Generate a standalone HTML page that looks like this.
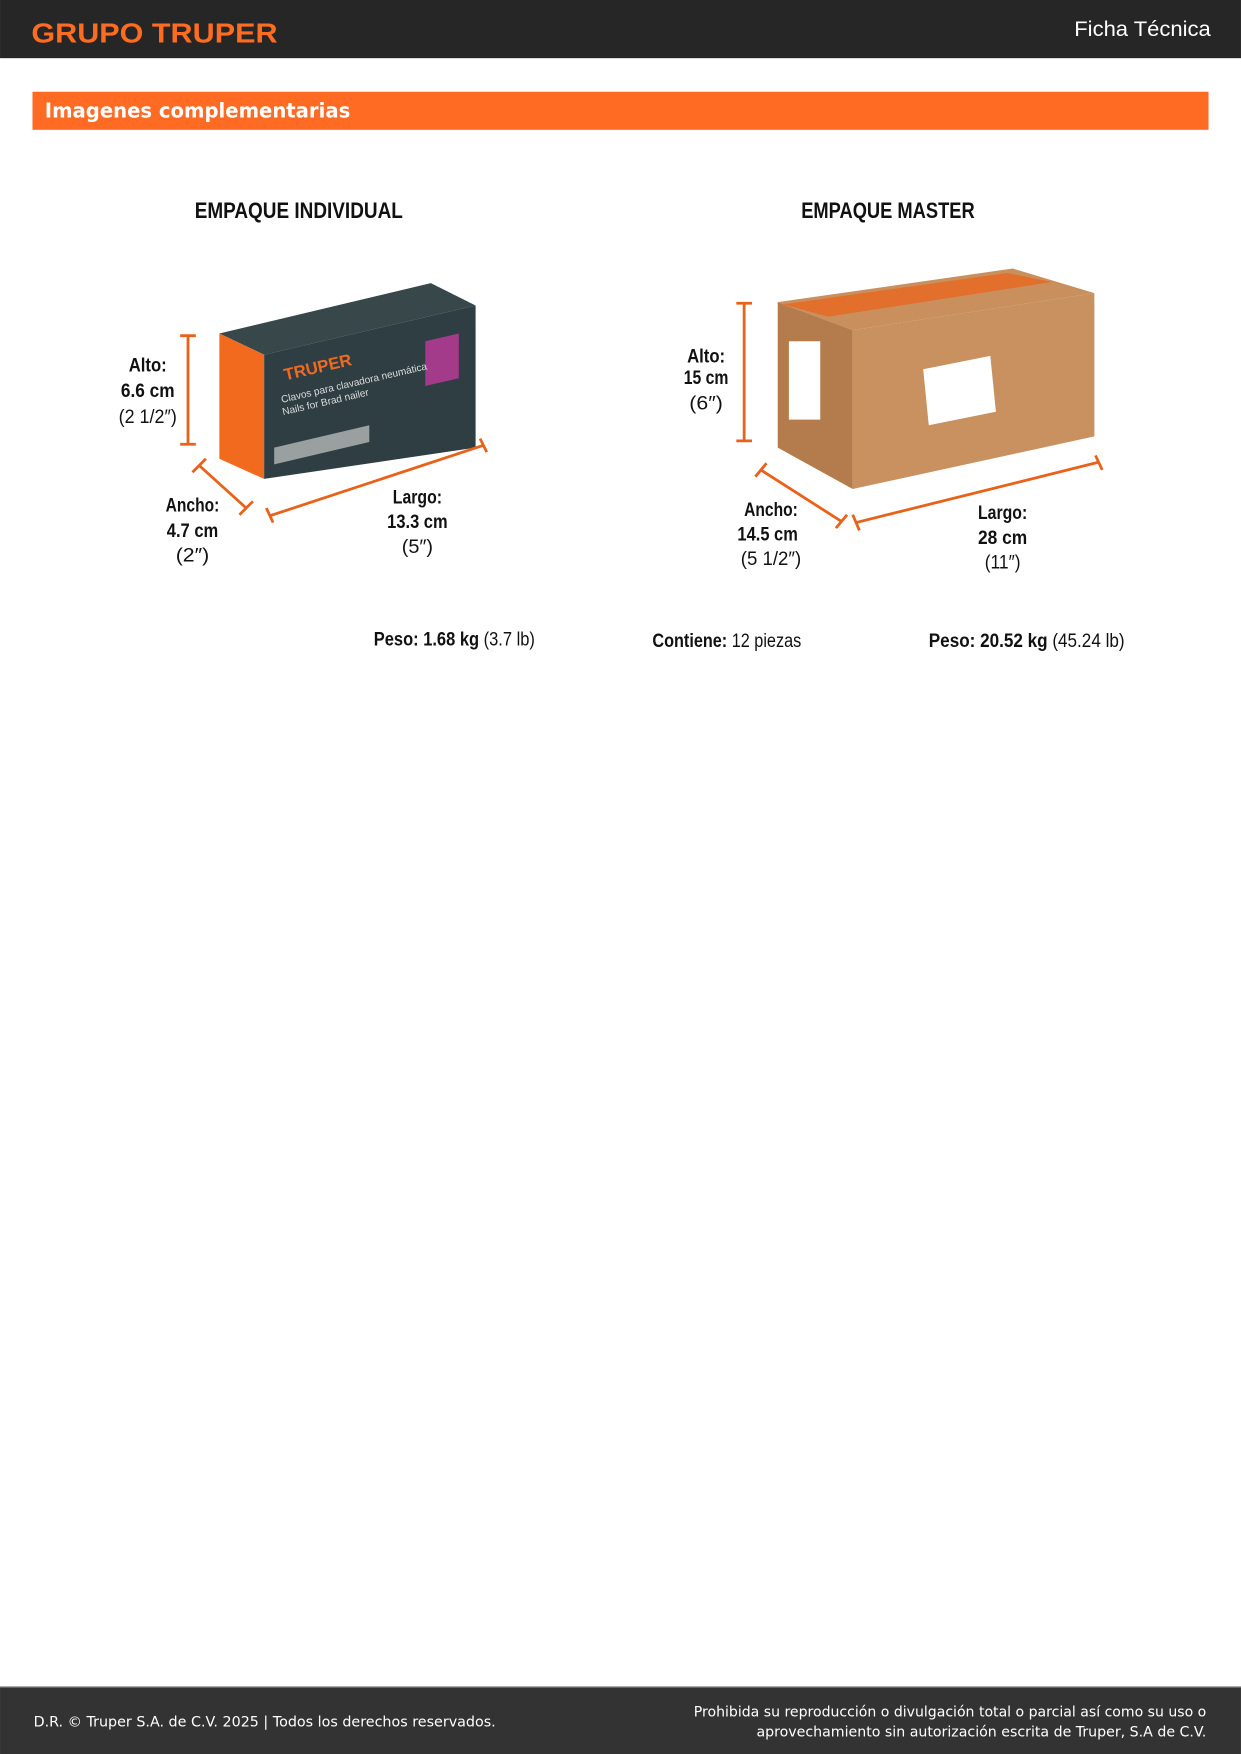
<!DOCTYPE html>
<html><head><meta charset="utf-8"><style>
html,body{margin:0;padding:0;background:#fff;}
svg{display:block;}
.c{font-family:"Liberation Sans Narrow","Liberation Sans",sans-serif;}
</style></head><body>
<svg width="1241" height="1754" viewBox="0 0 1109 1567.5" xmlns="http://www.w3.org/2000/svg">
<rect x="0" y="0" width="1109" height="52" fill="#262626"/>
<text x="28" y="38" class="c" font-size="25" font-weight="bold" fill="#ff6b1f" textLength="220" lengthAdjust="spacingAndGlyphs">GRUPO TRUPER</text>
<text x="1082" y="32" text-anchor="end" font-family="Liberation Sans,sans-serif" font-size="19" fill="#fff" textLength="122" lengthAdjust="spacingAndGlyphs">Ficha Técnica</text>
<rect x="29" y="82" width="1051" height="34" fill="#ff6b22"/>
<text x="40" y="105" font-family="DejaVu Sans,sans-serif" font-weight="bold" font-size="18" fill="#fff" textLength="273" lengthAdjust="spacingAndGlyphs">Imagenes complementarias</text>
<g class="c" font-weight="bold" font-size="20" fill="#111">
<text x="174" y="195" textLength="186" lengthAdjust="spacingAndGlyphs">EMPAQUE INDIVIDUAL</text>
<text x="716" y="195" textLength="155" lengthAdjust="spacingAndGlyphs">EMPAQUE MASTER</text>
</g>
<!-- individual box -->
<polygon points="196,298 385,253 425,273 236,317" fill="#37474a"/>
<polygon points="236,317 425,273 425,400 236,428" fill="#2f3e42"/>
<polygon points="196,298 236,317 236,428 196,410" fill="#f26a1e"/>
<polygon points="245,400 330,380 330,395 245,415" fill="#9aa0a0"/>
<polygon points="380,305 410,298 410,338 380,345" fill="#a43a8a"/>
<text x="255" y="340" font-family="Liberation Sans,sans-serif" font-weight="bold" font-size="15" fill="#f26a1e" transform="rotate(-13 255 340)">TRUPER</text>
<text x="252" y="360" font-family="Liberation Sans,sans-serif" font-size="9" fill="#ddd" transform="rotate(-13 252 360)">Clavos para clavadora neumática</text>
<text x="253" y="371" font-family="Liberation Sans,sans-serif" font-size="9" fill="#ddd" transform="rotate(-13 253 371)">Nails for Brad nailer</text>
<!-- master box -->
<polygon points="695,270 905,240 978,262 762,295" fill="#c98f5c"/>
<polygon points="762,295 978,262 978,390 762,437" fill="#c8915f"/>
<polygon points="695,270 762,295 762,437 695,400" fill="#b47c4c"/>
<polygon points="700,272 900,244 940,252 740,283" fill="#e8671f" opacity="0.8"/>
<polygon points="825,330 885,318 890,368 830,380" fill="#fff"/>
<rect x="705" y="305" width="28" height="70" fill="#fff"/>
<g stroke="#e8621a" stroke-width="2.5" fill="none">
<path d="M168,300V397M161,300H175M161,397H175"/>
<path d="M178,416L220,454M172,422L184,410M214,460L226,448"/>
<path d="M241,461L432,398M238,454L244,467M429,392L435,404"/>
<path d="M665,271V394M658,271H672M658,394H672"/>
<path d="M680,420L752,466M675,426L685,414M747,472L757,460"/>
<path d="M765,467L982,413M762,460L768,474M979,407L985,420"/>
</g>
<g class="c" font-size="17" fill="#111" text-anchor="middle">
<text x="132" y="332" font-weight="bold" textLength="34" lengthAdjust="spacingAndGlyphs">Alto:</text>
<text x="132" y="355" font-weight="bold" textLength="48" lengthAdjust="spacingAndGlyphs">6.6 cm</text>
<text x="132" y="378" textLength="52" lengthAdjust="spacingAndGlyphs">(2 1/2″)</text>
<text x="172" y="457" font-weight="bold" textLength="48" lengthAdjust="spacingAndGlyphs">Ancho:</text>
<text x="172" y="480" font-weight="bold" textLength="46" lengthAdjust="spacingAndGlyphs">4.7 cm</text>
<text x="172" y="502" textLength="30" lengthAdjust="spacingAndGlyphs">(2″)</text>
<text x="373" y="450" font-weight="bold" textLength="44" lengthAdjust="spacingAndGlyphs">Largo:</text>
<text x="373" y="472" font-weight="bold" textLength="54" lengthAdjust="spacingAndGlyphs">13.3 cm</text>
<text x="373" y="494" textLength="28" lengthAdjust="spacingAndGlyphs">(5″)</text>
<text x="631" y="324" font-weight="bold" textLength="34" lengthAdjust="spacingAndGlyphs">Alto:</text>
<text x="631" y="343" font-weight="bold" textLength="40" lengthAdjust="spacingAndGlyphs">15 cm</text>
<text x="631" y="366" textLength="30" lengthAdjust="spacingAndGlyphs">(6″)</text>
<text x="689" y="461" font-weight="bold" textLength="48" lengthAdjust="spacingAndGlyphs">Ancho:</text>
<text x="686" y="483" font-weight="bold" textLength="54" lengthAdjust="spacingAndGlyphs">14.5 cm</text>
<text x="689" y="505" textLength="54" lengthAdjust="spacingAndGlyphs">(5 1/2″)</text>
<text x="896" y="464" font-weight="bold" textLength="44" lengthAdjust="spacingAndGlyphs">Largo:</text>
<text x="896" y="486" font-weight="bold" textLength="44" lengthAdjust="spacingAndGlyphs">28 cm</text>
<text x="896" y="508" textLength="32" lengthAdjust="spacingAndGlyphs">(11″)</text>
</g>
<g class="c" font-size="17" fill="#111">
<text x="334" y="577" textLength="144" lengthAdjust="spacingAndGlyphs"><tspan font-weight="bold">Peso: 1.68 kg</tspan> (3.7 lb)</text>
<text x="583" y="578" textLength="133" lengthAdjust="spacingAndGlyphs"><tspan font-weight="bold">Contiene:</tspan> 12 piezas</text>
<text x="830" y="578" textLength="175" lengthAdjust="spacingAndGlyphs"><tspan font-weight="bold">Peso: 20.52 kg</tspan> (45.24 lb)</text>
</g>
<rect x="0" y="1507" width="1109" height="61" fill="#333"/>
<rect x="0" y="1507" width="1109" height="1" fill="#aaa"/>
<g font-family="DejaVu Sans,sans-serif" font-size="13" fill="#fff">
<text x="30" y="1543" textLength="413" lengthAdjust="spacingAndGlyphs">D.R. © Truper S.A. de C.V. 2025 | Todos los derechos reservados.</text>
<text x="1078" y="1534" text-anchor="end" textLength="458" lengthAdjust="spacingAndGlyphs">Prohibida su reproducción o divulgación total o parcial así como su uso o</text>
<text x="1078" y="1552" text-anchor="end" textLength="402" lengthAdjust="spacingAndGlyphs">aprovechamiento sin autorización escrita de Truper, S.A de C.V.</text>
</g>
</svg>
</body></html>
